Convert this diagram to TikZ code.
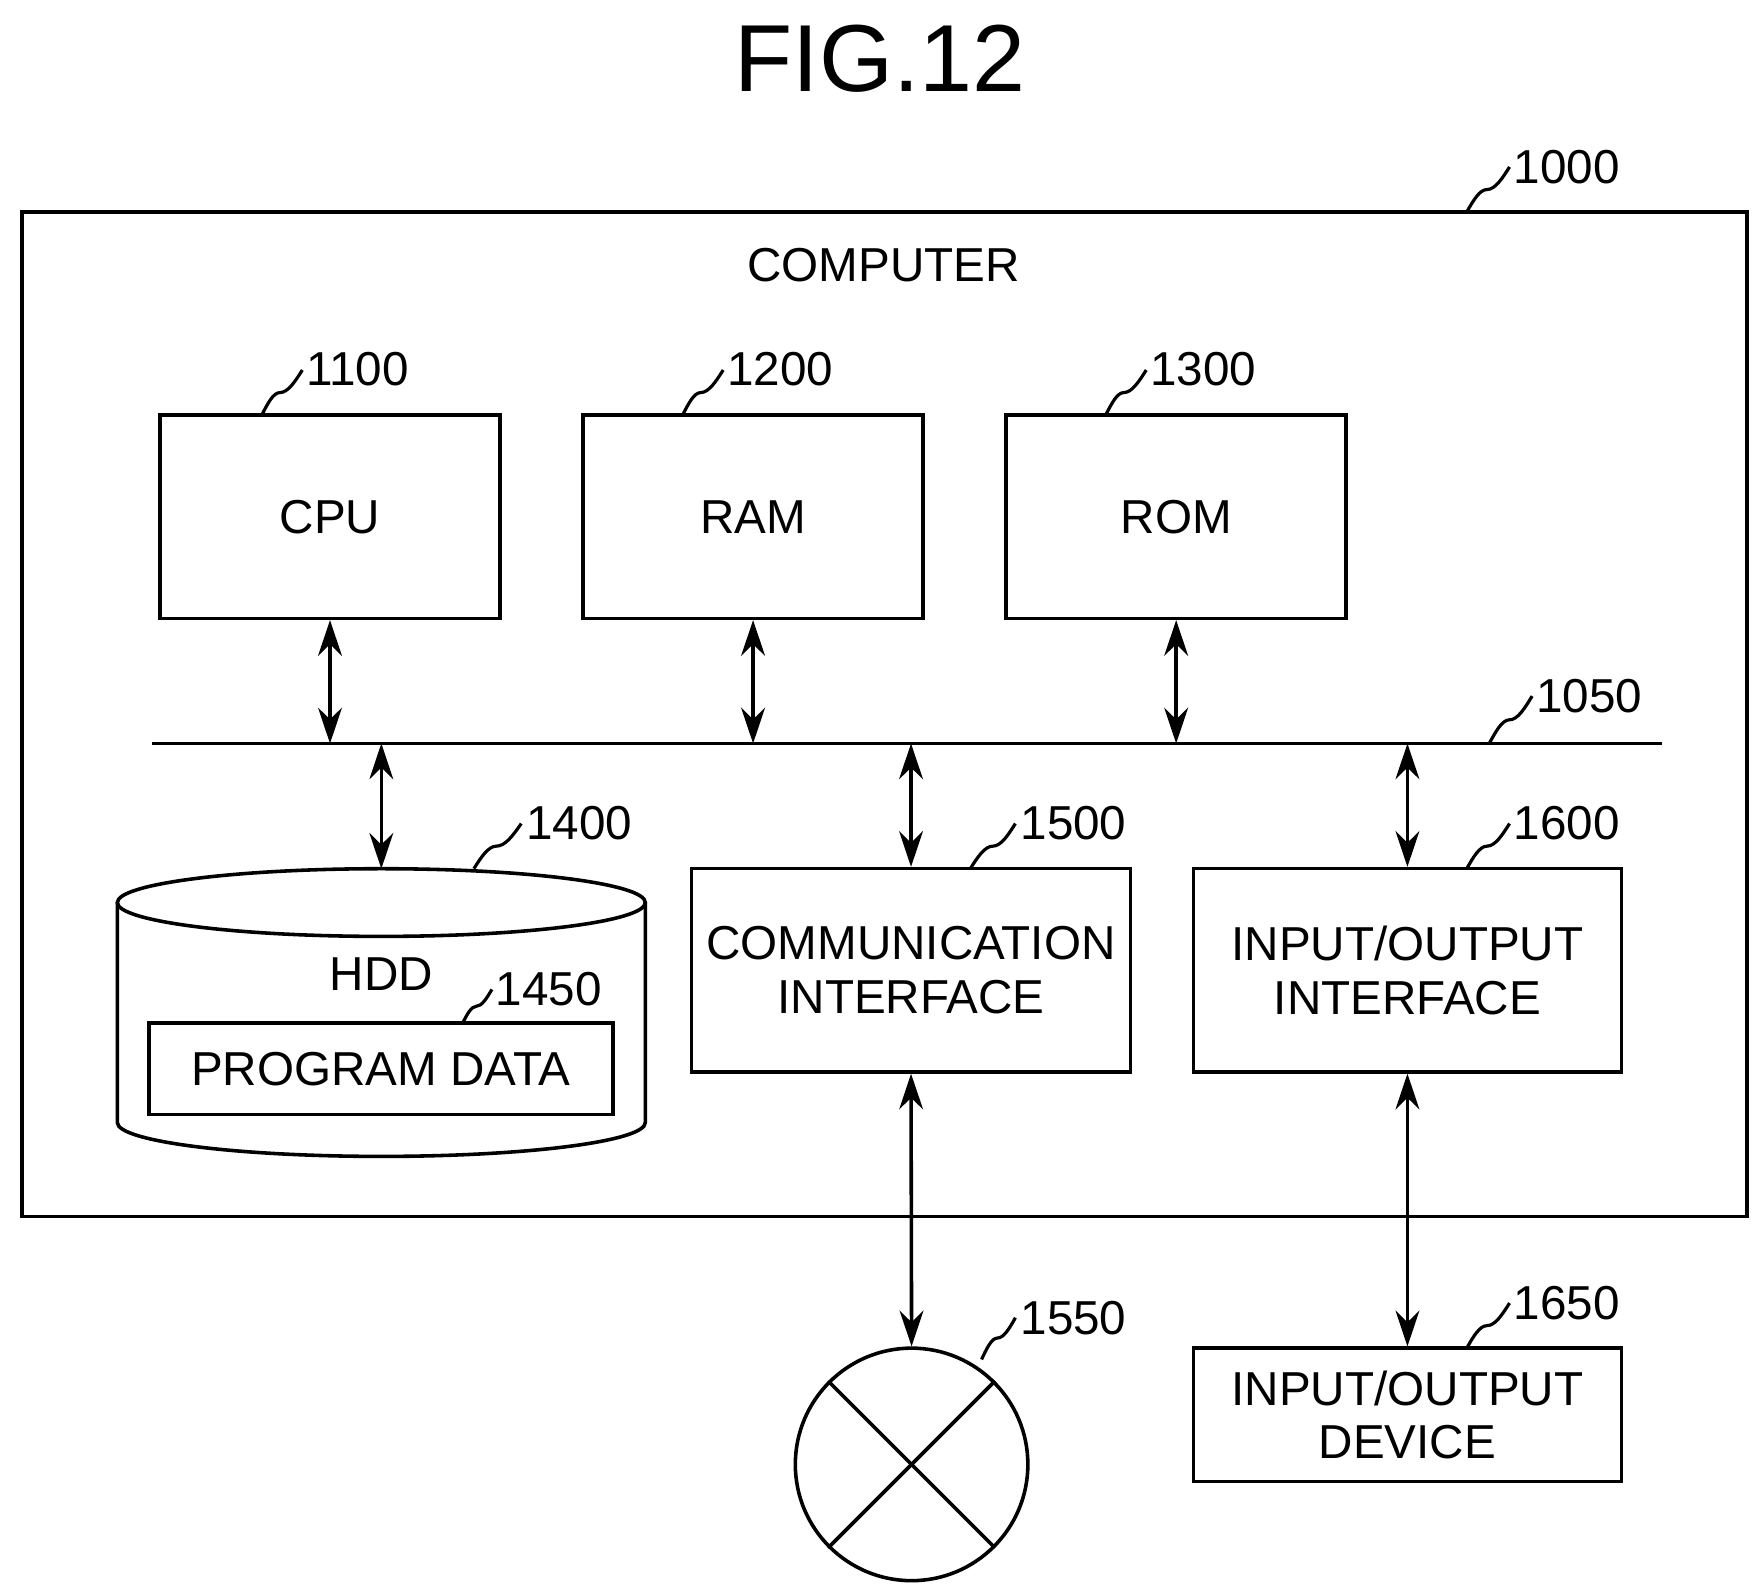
\documentclass[tikz,border=0pt]{standalone}
\usepackage{fontspec}
\setmainfont{Liberation Sans}
\usetikzlibrary{arrows.meta}
\begin{document}
\begin{tikzpicture}[x=0.01cm,y=-0.01cm,line width=0.9pt,
 box/.style={draw,fill=white,inner sep=0pt,align=center,font=\fontsize{12}{13.5}\selectfont},
 lbl/.style={anchor=west,inner sep=0pt,font=\fontsize{12}{14}\selectfont},
 arr/.style={{Stealth[length=9pt,width=6pt]}-{Stealth[length=9pt,width=6pt]}},
 sq/.style={line width=0.8pt}]
\useasboundingbox (0,0) rectangle (1560,1410);
\node[font=\fontsize{24}{28}\selectfont] (title) at (780,52) {FIG.12};
\node[draw,minimum width=15.28cm,minimum height=8.9cm,inner sep=0pt] (comp) at (784,633) {};
\node[font=\fontsize{12}{14}\selectfont] (ctext) at (783,235) {COMPUTER};
\node[lbl] (l1000) at (1340,148) {1000};
\draw[sq] (1300,188) sin (1318,168) cos (1338,148);
% top boxes
\node[box,minimum width=3.01cm,minimum height=1.8cm] (cpu) at (292.5,458) {CPU};
\node[box,minimum width=3.01cm,minimum height=1.8cm] (ram) at (667.5,458) {RAM};
\node[box,minimum width=3.01cm,minimum height=1.8cm] (rom) at (1042.5,458) {ROM};
\node[lbl] (l1100) at (270,327) {1100};
\node[lbl] (l1200) at (643,327) {1200};
\node[lbl] (l1300) at (1018,327) {1300};
\draw[sq] (232,368) sin (248,348) cos (268,328);
\draw[sq] (605,368) sin (621,348) cos (641,328);
\draw[sq] (980,368) sin (996,348) cos (1016,328);
% bus
\coordinate (busL) at (135,659);
\coordinate (busR) at (1473,659);
\draw (busL) -- (busR);
\node[lbl] (l1050) at (1360,617) {1050};
\draw[sq] (1320,659) sin (1338,638) cos (1358,617);
\draw[arr] (cpu.south) -- (cpu.south |- busL);
\draw[arr] (ram.south) -- (ram.south |- busL);
\draw[arr] (rom.south) -- (rom.south |- busL);
% HDD
\coordinate (hddtop) at (338,770);
\draw (104,800) -- (104,995) arc[start angle=180,end angle=360,x radius=234,y radius=-30] -- (572,800);
\draw (338,800) ellipse[x radius=234,y radius=30];
\node[font=\fontsize{12}{14}\selectfont] (hdd) at (338,863) {HDD};
\node[box,minimum width=4.11cm,minimum height=0.81cm] (prog) at (337.5,947.5) {PROGRAM DATA};
\node[lbl] (l1400) at (465,730) {1400};
\draw[sq] (420,770) sin (440,750) cos (462,730);
\node[lbl] (l1450) at (438,877) {1450};
\draw[sq] (410,907) sin (422,892) cos (436,877);
\draw[arr] (hddtop |- busL) -- (hddtop);
% interfaces
\node[box,minimum width=3.89cm,minimum height=1.8cm] (comm) at (807.5,860) {COMMUNICATION\\INTERFACE};
\node[box,minimum width=3.79cm,minimum height=1.8cm] (io) at (1247.5,860) {INPUT/OUTPUT\\INTERFACE};
\node[lbl] (l1500) at (903,730) {1500};
\node[lbl] (l1600) at (1340,730) {1600};
\draw[sq] (860,770) sin (880,750) cos (900,730);
\draw[sq] (1300,770) sin (1318,750) cos (1338,730);
\draw[arr] (comm.north |- busL) -- (comm.north);
\draw[arr] (io.north |- busL) -- (io.north);
% network
\node[draw,circle,minimum size=2.06cm,inner sep=0pt] (net) at (808,1298) {};
\draw (net.45) -- (net.225);
\draw (net.135) -- (net.315);
\node[lbl] (l1550) at (903,1168) {1550};
\draw[sq] (870,1205) sin (884,1186) cos (900,1168);
\draw[arr] (comm.south) -- (net.north);
% IO device
\node[box,minimum width=3.79cm,minimum height=1.18cm] (dev) at (1247.5,1254) {INPUT/OUTPUT\\DEVICE};
\node[lbl] (l1650) at (1340,1155) {1650};
\draw[sq] (1300,1195) sin (1318,1175) cos (1338,1155);
\draw[arr] (io.south) -- (io.south |- dev.north);
\end{tikzpicture}
\end{document}
